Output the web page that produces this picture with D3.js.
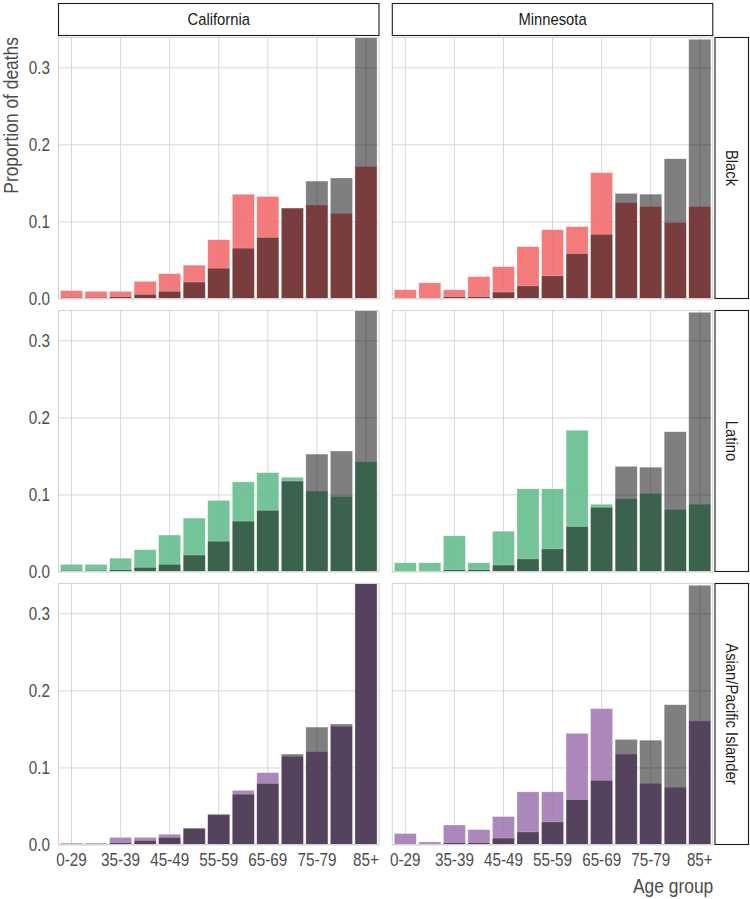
<!DOCTYPE html>
<html>
<head>
<meta charset="utf-8">
<script src="https://cdn.jsdelivr.net/npm/d3@7"></script>
<style>
  html, body { margin: 0; padding: 0; background: #fff; }
  svg { display: block; }
</style>
</head>
<body>
<svg id="chart" width="750" height="899"></svg>
<script>
// ---- Data ----
const ages = ["0-29","30-34","35-39","40-44","45-49","50-54","55-59","60-64","65-69","70-74","75-79","80-84","85+"];
const tickLabels = ["0-29","35-39","45-49","55-59","65-69","75-79","85+"];
const yTicks = [0, 0.1, 0.2, 0.3];
const states = ["California", "Minnesota"];
const groups = ["Black", "Latino", "Asian/Pacific Islander"];

// White (reference, gray) proportions
const whiteCA = [0.002,0.002,0.003,0.006,0.010,0.022,0.040,0.066,0.080,0.118,0.153,0.157,0.340];
const whiteMN = [0.001,0.001,0.003,0.003,0.009,0.017,0.030,0.059,0.084,0.137,0.136,0.182,0.337];

// Group proportions
const blackCA  = [0.011,0.010,0.010,0.023,0.033,0.044,0.077,0.136,0.133,0.118,0.122,0.111,0.172];
const blackMN  = [0.012,0.021,0.012,0.029,0.042,0.068,0.090,0.094,0.164,0.125,0.120,0.099,0.120];
const latinoCA = [0.010,0.010,0.018,0.029,0.048,0.070,0.093,0.117,0.129,0.123,0.105,0.098,0.143];
const latinoMN = [0.012,0.012,0.047,0.012,0.053,0.108,0.108,0.184,0.088,0.095,0.102,0.081,0.088];
const asianCA  = [0.002,0.002,0.010,0.010,0.014,0.021,0.039,0.071,0.094,0.115,0.121,0.154,0.340];
const asianMN  = [0.015,0.004,0.026,0.020,0.037,0.069,0.069,0.145,0.177,0.118,0.080,0.075,0.161];

const groupColors = ["#F26D6D", "#66BE8E", "#A27AB5"];

const whiteByState = [whiteCA, whiteMN];
const groupData = [
  [blackCA, blackMN],
  [latinoCA, latinoMN],
  [asianCA, asianMN]
];

const FONT = "'Liberation Sans', Arial, sans-serif";
const fs = { tick: 17.5, title: 20, strip: 17 };
const SQUEEZE = 0.87;
// narrow look: compress glyphs horizontally, keeping real text
function condense(sel) {
  sel.each(function () {
    const w = this.getComputedTextLength();
    if (w > 0) {
      this.setAttribute("textLength", (w * SQUEEZE).toFixed(2));
      this.setAttribute("lengthAdjust", "spacingAndGlyphs");
    }
  });
}

// ---- Layout ----
const svg = d3.select("#chart").attr("font-family", FONT);
const colX = [58, 391.8];
const panelW = 321.5;
const rowY = [37, 310, 583];
const panelH = 262;
const stripTop = 3;
const stripRightX = 714.5, stripRightW = 34.5;

const yMax = d3.max([...whiteCA, ...whiteMN, ...blackCA, ...blackMN, ...latinoCA, ...latinoMN, ...asianCA, ...asianMN]);

const tickColor = "#4d4d4d";
const gridColor = "#d6d6d6";

// Strips on top
states.forEach((s, ci) => {
  svg.append("rect")
    .attr("x", colX[ci] + 0.5).attr("y", stripTop + 0.5)
    .attr("width", panelW - 1).attr("height", 36 - stripTop - 1)
    .attr("fill", "#fff").attr("stroke", "#1a1a1a").attr("stroke-width", 1.1);
  svg.append("text")
    .attr("x", colX[ci] + panelW / 2).attr("y", (stripTop + 36) / 2)
    .attr("text-anchor", "middle").attr("dominant-baseline", "central")
    .attr("font-size", fs.strip).attr("fill", "#1a1a1a").text(s)
    .call(condense);
});

groups.forEach((g, ri) => {
  const y = d3.scaleLinear().domain([0, yMax]).range([rowY[ri] + panelH, rowY[ri]]);

  // right strip
  svg.append("rect")
    .attr("x", stripRightX + 0.5).attr("y", rowY[ri] + 0.5)
    .attr("width", stripRightW - 1).attr("height", panelH - 1)
    .attr("fill", "#fff").attr("stroke", "#1a1a1a").attr("stroke-width", 1.1);
  const cy = rowY[ri] + panelH / 2, cx = stripRightX + stripRightW / 2;
  svg.append("text")
    .attr("transform", `translate(${cx},${cy}) rotate(90)`)
    .attr("text-anchor", "middle").attr("dominant-baseline", "central")
    .attr("font-size", fs.strip).attr("fill", "#1a1a1a").text(g)
    .call(condense);

  states.forEach((s, ci) => {
    const x = d3.scaleBand().domain(ages)
      .range([colX[ci], colX[ci] + panelW])
      .paddingInner(0.1).paddingOuter(0.1);
    const panel = svg.append("g");

    const clipId = `clip-${ri}-${ci}`;
    panel.append("clipPath").attr("id", clipId)
      .append("rect").attr("x", colX[ci]).attr("y", rowY[ri]).attr("width", panelW).attr("height", panelH);

    // gridlines
    panel.selectAll(".hg").data(yTicks).join("line")
      .attr("x1", colX[ci]).attr("x2", colX[ci] + panelW)
      .attr("y1", d => y(d)).attr("y2", d => y(d))
      .attr("stroke", gridColor).attr("stroke-width", 1);
    panel.selectAll(".vg").data(tickLabels).join("line")
      .attr("x1", d => x(d) + x.bandwidth() / 2).attr("x2", d => x(d) + x.bandwidth() / 2)
      .attr("y1", rowY[ri]).attr("y2", rowY[ri] + panelH)
      .attr("stroke", gridColor).attr("stroke-width", 1);

    const bars = panel.append("g").attr("clip-path", `url(#${clipId})`);
    bars.selectAll(".gb").data(groupData[ri][ci]).join("rect")
      .attr("x", (d, i) => x(ages[i])).attr("width", x.bandwidth())
      .attr("y", d => y(d)).attr("height", d => y(0) - y(d))
      .attr("fill", groupColors[ri]).attr("fill-opacity", 0.9)
      .attr("stroke", "#fff").attr("stroke-opacity", 0.6).attr("stroke-width", 0.6);
    bars.selectAll(".wb").data(whiteByState[ci]).join("rect")
      .attr("x", (d, i) => x(ages[i])).attr("width", x.bandwidth())
      .attr("y", d => y(d)).attr("height", d => y(0) - y(d))
      .attr("fill", "#000").attr("fill-opacity", 0.5)
      .attr("stroke", "#fff").attr("stroke-opacity", 0.4).attr("stroke-width", 0.6);

    // panel border
    panel.append("rect")
      .attr("x", colX[ci] + 0.5).attr("y", rowY[ri] + 0.5)
      .attr("width", panelW - 1).attr("height", panelH - 1)
      .attr("fill", "none").attr("stroke", "#d4d4d4").attr("stroke-width", 1);

    if (ci === 0) {
      const ya = svg.append("g")
        .attr("transform", `translate(${colX[0]},0)`)
        .call(d3.axisLeft(y).tickValues(yTicks).tickFormat(d3.format(".1f")).tickSize(0).tickPadding(8));
      ya.select(".domain").remove();
      ya.selectAll("text").attr("font-size", fs.tick).attr("fill", tickColor).attr("font-family", FONT)
        .call(condense);
    }
    if (ri === groups.length - 1) {
      const xa = svg.append("g")
        .attr("transform", `translate(0,${rowY[ri] + panelH})`)
        .call(d3.axisBottom(x).tickValues(tickLabels).tickSize(0).tickPadding(9));
      xa.select(".domain").remove();
      xa.selectAll("text").attr("font-size", fs.tick).attr("fill", tickColor).attr("font-family", FONT)
        .call(condense);
    }
  });
});

// axis titles
svg.append("text")
  .attr("transform", `translate(18,${rowY[0]}) rotate(-90)`)
  .attr("text-anchor", "end")
  .attr("font-size", fs.title).attr("fill", tickColor)
  .text("Proportion of deaths")
  .call(condense);

svg.append("text")
  .attr("x", colX[1] + panelW).attr("y", 893)
  .attr("text-anchor", "end")
  .attr("font-size", fs.title).attr("fill", tickColor)
  .text("Age group")
  .call(condense);
</script>
</body>
</html>
